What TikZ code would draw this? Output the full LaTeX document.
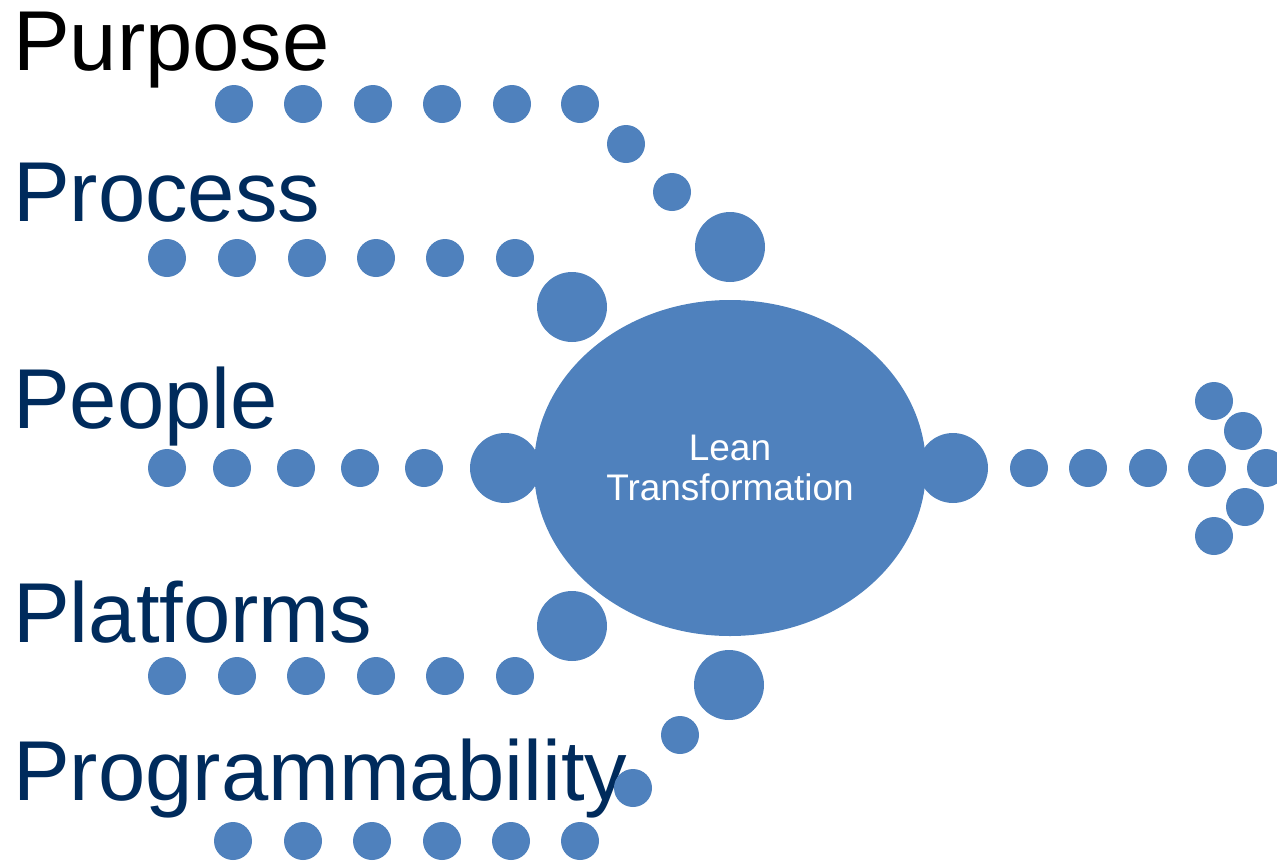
\documentclass[tikz,border=0pt]{standalone}
\usepackage{fontspec}
\setmainfont{Liberation Sans}
\usetikzlibrary{shapes.geometric}
\definecolor{dotblue}{RGB}{79,129,189}
\definecolor{navy}{RGB}{0,43,92}
\tikzset{
  dot/.style={circle,fill=dotblue,draw=none,inner sep=0pt,minimum size=38pt},
  bigdot/.style={circle,fill=dotblue,draw=none,inner sep=0pt,minimum size=70pt},
  label/.style={anchor=base west,inner sep=0pt,font=\fontsize{85}{90}\selectfont,text=navy},
}
\begin{document}
\begin{tikzpicture}[x=1pt,y=-1pt]
\useasboundingbox (0,0) rectangle (1277,860);
% labels
\node[label,text=black] (tpurpose) at (13,70) {Purpose};
\node[label] (tprocess) at (13,221) {Process};
\node[label] (tpeople) at (13,428) {People};
\node[label] (tplatforms) at (13,642) {Platforms};
\node[label] (tprog) at (13,800) {Programmability};
% centre
\node[ellipse,fill=dotblue,draw=none,minimum width=392pt,minimum height=336pt,inner sep=0pt,
      text=white,align=center,font=\fontsize{37}{40}\selectfont] (lean) at (730,468) {Lean\\Transformation};
% purpose row
\foreach \x [count=\i] in {234,303,373,442,512,580}
  \node[dot] (pu\i) at (\x,104) {};
\node[dot] (pu7) at (626,144) {};
\node[dot] (pu8) at (672,192) {};
\node[bigdot] (pu9) at (730,247) {};
% process row
\foreach \x [count=\i] in {167,237,307,376,445,515}
  \node[dot] (pr\i) at (\x,258) {};
\node[bigdot] (pr7) at (572,307) {};
% people row
\foreach \x [count=\i] in {167,232,296,360,424}
  \node[dot] (pe\i) at (\x,468) {};
\node[bigdot] (pe6) at (505,468) {};
% output
\node[bigdot] (out0) at (953,468) {};
\foreach \x [count=\i] in {1029,1088,1148,1207}
  \node[dot] (out\i) at (\x,468) {};
\node[dot] (ar1) at (1214,401) {};
\node[dot] (ar2) at (1243,431) {};
\node[dot] (ar3) at (1266,468) {};
\node[dot] (ar4) at (1245,507) {};
\node[dot] (ar5) at (1214,536) {};
% platforms row
\foreach \x [count=\i] in {167,237,306,376,445,515}
  \node[dot] (pl\i) at (\x,676) {};
\node[bigdot] (pl7) at (572,626) {};
% programmability row
\node[bigdot] (pg9) at (729,685) {};
\node[dot] (pg8) at (680,735) {};
\node[dot] (pg7) at (633,788) {};
\foreach \x [count=\i] in {233,303,372,442,511,580}
  \node[dot] (pg\i) at (\x,841) {};
\end{tikzpicture}
\end{document}
